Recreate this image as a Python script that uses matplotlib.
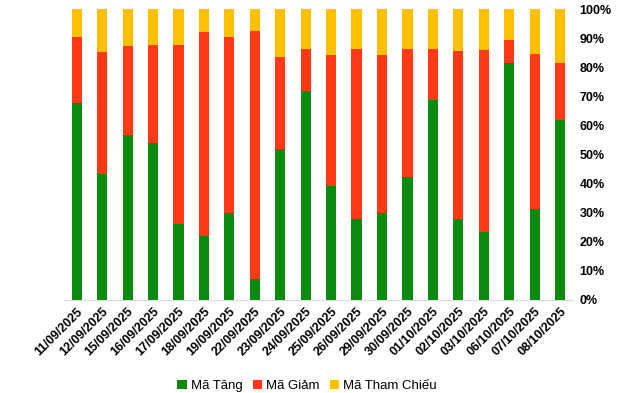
import matplotlib
matplotlib.use('Agg')
import matplotlib.pyplot as plt
import numpy as np

plt.rcParams['font.family'] = ['Liberation Sans', 'DejaVu Sans']

dates = ['11/09/2025', '12/09/2025', '15/09/2025', '16/09/2025', '17/09/2025',
         '18/09/2025', '19/09/2025', '22/09/2025', '23/09/2025', '24/09/2025',
         '25/09/2025', '26/09/2025', '29/09/2025', '30/09/2025', '01/10/2025',
         '02/10/2025', '03/10/2025', '06/10/2025', '07/10/2025', '08/10/2025']

# share of codes (%)
tang = [67.7, 43.4, 56.7, 54.0, 26.1, 22.0, 29.7, 7.2, 51.9, 71.8,
        39.3, 27.8, 29.7, 42.3, 68.8, 27.8, 23.5, 81.4, 31.3, 62.0]
giam = [22.7, 41.8, 30.6, 33.6, 61.5, 70.1, 60.7, 85.2, 31.6, 14.5,
        44.9, 58.5, 54.5, 44.0, 17.5, 57.8, 62.4, 7.9, 53.2, 19.4]
tham_chieu = [100 - a - b for a, b in zip(tang, giam)]

c_tang = '#0B8A10'
c_giam = '#FF3A14'
c_tc = '#FFC000'

fig = plt.figure(figsize=(6.4, 3.93), dpi=100)
ax = fig.add_axes([0.1, 0.237, 0.795, 0.74])

x = np.arange(len(dates))
w = 0.4
ax.bar(x, tang, w, color=c_tang, label='Mã Tăng')
ax.bar(x, giam, w, bottom=tang, color=c_giam, label='Mã Giảm')
ax.bar(x, tham_chieu, w, bottom=np.array(tang) + np.array(giam), color=c_tc, label='Mã Tham Chiếu')

ax.set_xlim(-0.5, len(dates) - 0.5)
ax.set_ylim(0, 100)
ax.yaxis.tick_right()
ax.set_yticks(np.arange(0, 101, 10))
ax.set_yticklabels(['{}%'.format(v) for v in range(0, 101, 10)], fontweight='bold', fontsize=9)
ax.set_xticks(x)
ax.set_xticklabels(dates, rotation=45, ha='right', rotation_mode='anchor', fontweight='bold', fontsize=9)
ax.tick_params(axis='y', length=0, pad=5)
ax.tick_params(axis='x', length=0, pad=4)

for s in ['top', 'left', 'right']:
    ax.spines[s].set_visible(False)
ax.spines['bottom'].set_color('#D9D9D9')

fig.legend(loc='lower center', bbox_to_anchor=(0.48, -0.028), ncol=3, frameon=False,
           fontsize=9.5, handlelength=0.7, handleheight=0.7, handletextpad=0.3, columnspacing=0.8)

fig.savefig('out.png', dpi=100)
